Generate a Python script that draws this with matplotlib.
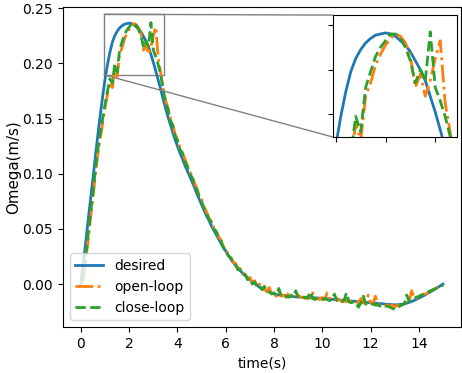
import numpy as np
import matplotlib
matplotlib.use("Agg")
import matplotlib.pyplot as plt
from mpl_toolkits.axes_grid1.inset_locator import mark_inset

# all series sampled every 0.1 s
t = np.arange(0, 15.001, 0.1)

desired = [0.000, 0.019, 0.038, 0.058, 0.077, 0.096, 0.116, 0.135, 0.153, 0.170,
           0.186, 0.199, 0.210, 0.219, 0.225, 0.229, 0.232, 0.234, 0.2355, 0.236,
           0.2365, 0.236, 0.235, 0.233, 0.231, 0.228, 0.224, 0.220, 0.215, 0.208,
           0.201, 0.193, 0.185, 0.177, 0.168, 0.160, 0.152, 0.145, 0.138, 0.131,
           0.125, 0.119, 0.114, 0.108, 0.103, 0.098, 0.093, 0.088, 0.082, 0.077,
           0.072, 0.067, 0.062, 0.058, 0.053, 0.049, 0.045, 0.041, 0.037, 0.033,
           0.030, 0.026, 0.023, 0.020, 0.017, 0.015, 0.012, 0.010, 0.008, 0.006,
           0.004, 0.002, 0.001, -0.001, -0.003, -0.004, -0.005, -0.006, -0.007, -0.008,
           -0.0090, -0.0095, -0.0099, -0.0102, -0.0105, -0.0108, -0.0110, -0.0112, -0.0114, -0.0116,
           -0.0117, -0.0118, -0.0119, -0.0120, -0.0121, -0.0122, -0.0123, -0.0125, -0.0126, -0.0128,
           -0.0130, -0.0132, -0.0134, -0.0136, -0.0138, -0.0140, -0.0142, -0.0144, -0.0146, -0.0148,
           -0.0150, -0.0152, -0.0154, -0.0156, -0.0158, -0.0160, -0.0162, -0.0164, -0.0166, -0.0168,
           -0.0170, -0.0172, -0.0174, -0.0176, -0.0178, -0.0180, -0.0182, -0.0184, -0.0186, -0.0187,
           -0.0188, -0.0188, -0.0186, -0.0183, -0.0179, -0.0173, -0.0166, -0.0158, -0.0149, -0.0139,
           -0.0128, -0.0117, -0.0105, -0.0093, -0.0081, -0.0068, -0.0055, -0.0042, -0.0028, -0.0014,
           0.0000]

open_loop = [0.000, 0.004, 0.022, 0.040, 0.060, 0.079, 0.099, 0.118, 0.132, 0.146,
             0.160, 0.172, 0.183, 0.178, 0.196, 0.188, 0.208, 0.214, 0.222, 0.227,
             0.231, 0.234, 0.236, 0.235, 0.232, 0.226, 0.212, 0.218, 0.208, 0.215,
             0.225, 0.233, 0.205, 0.192, 0.178, 0.167, 0.160, 0.151, 0.145, 0.136,
             0.131, 0.124, 0.119, 0.114, 0.108, 0.102, 0.099, 0.092, 0.087, 0.080,
             0.077, 0.070, 0.066, 0.060, 0.057, 0.051, 0.049, 0.043, 0.040, 0.034,
             0.032, 0.027, 0.025, 0.020, 0.019, 0.014, 0.014, 0.009, 0.010, 0.005,
             0.006, 0.001, 0.003, -0.002, 0.000, -0.005, -0.004, -0.007, -0.003, -0.009,
             -0.009, -0.011, -0.006, -0.011, -0.010, -0.012, -0.008, -0.011, -0.011, -0.013,
             -0.010, -0.012, -0.012, -0.013, -0.011, -0.013, -0.008, -0.012, -0.013, -0.014,
             -0.012, -0.014, -0.008, -0.013, -0.014, -0.015, -0.013, -0.014, -0.016, -0.015,
             -0.016, -0.012, -0.016, -0.017, -0.016, -0.017, -0.013, -0.017, -0.018, -0.010,
             -0.017, -0.018, -0.011, -0.018, -0.019, -0.018, -0.019, -0.019, -0.020, -0.019,
             -0.021, -0.019, -0.020, -0.018, -0.017, -0.019, -0.016, -0.006, -0.012, -0.013,
             -0.011, -0.010, -0.009, -0.009, -0.007, -0.006, -0.005, -0.004, -0.003, -0.002,
             -0.001]

close_loop = [0.000, 0.008, 0.026, 0.045, 0.065, 0.083, 0.104, 0.122, 0.137, 0.150,
              0.163, 0.175, 0.186, 0.182, 0.199, 0.192, 0.212, 0.219, 0.226, 0.230,
              0.233, 0.236, 0.236, 0.234, 0.230, 0.224, 0.214, 0.220, 0.215, 0.237,
              0.212, 0.206, 0.199, 0.190, 0.178, 0.165, 0.159, 0.149, 0.144, 0.134,
              0.130, 0.122, 0.119, 0.111, 0.107, 0.100, 0.097, 0.090, 0.086, 0.079,
              0.075, 0.068, 0.065, 0.059, 0.056, 0.050, 0.048, 0.042, 0.039, 0.033,
              0.031, 0.026, 0.024, 0.019, 0.018, 0.013, 0.013, 0.008, 0.009, 0.004,
              0.005, 0.000, 0.002, -0.003, -0.002, -0.005, -0.002, -0.007, -0.007, -0.009,
              -0.008, -0.010, -0.004, -0.011, -0.011, -0.011, -0.012, -0.010, -0.012, -0.006,
              -0.012, -0.013, -0.012, -0.012, -0.013, -0.007, -0.013, -0.014, -0.013, -0.013,
              -0.014, -0.013, -0.014, -0.015, -0.014, -0.009, -0.015, -0.015, -0.016, -0.015,
              -0.008, -0.016, -0.017, -0.016, -0.017, -0.021, -0.017, -0.011, -0.018, -0.018,
              -0.019, -0.018, -0.019, -0.019, -0.020, -0.019, -0.020, -0.020, -0.021, -0.022,
              -0.023, -0.021, -0.020, -0.019, -0.018, -0.010, -0.016, -0.015, -0.013, -0.012,
              -0.011, -0.010, -0.009, -0.008, -0.007, -0.006, -0.005, -0.004, -0.003, -0.002,
              -0.001]

fig = plt.figure(figsize=(4.62, 3.73), dpi=100)
ax = fig.add_axes([0.136, 0.123, 0.862, 0.858])


def draw(a):
    a.plot(t, desired, color='tab:blue', lw=2, label='desired')
    a.plot(t, open_loop, color='tab:orange', ls='-.', lw=2, label='open-loop')
    a.plot(t, close_loop, color='tab:green', ls='--', lw=2, label='close-loop')


draw(ax)
ax.set_xlim(-0.75, 15.75)
ax.set_ylim(-0.039, 0.251)
ax.set_xticks(range(0, 15, 2))
ax.set_yticks([0.0, 0.05, 0.10, 0.15, 0.20, 0.25])
ax.set_xlabel('time(s)')
ax.set_ylabel('Omega(m/s)', fontsize=10.8, labelpad=1)
ax.legend(loc='lower left')

axins = ax.inset_axes([0.678, 0.594, 0.312, 0.381])
draw(axins)
axins.set_xlim(0.94, 3.44)
axins.set_ylim(0.1897, 0.2445)
axins.set_xticks([1, 2, 3])
axins.set_yticks([0.20, 0.22, 0.24])
axins.set_xticklabels([])
axins.set_yticklabels([])
mark_inset(ax, axins, loc1=2, loc2=3, fc='none', ec='0.5')

fig.savefig('out.png', dpi=100)
